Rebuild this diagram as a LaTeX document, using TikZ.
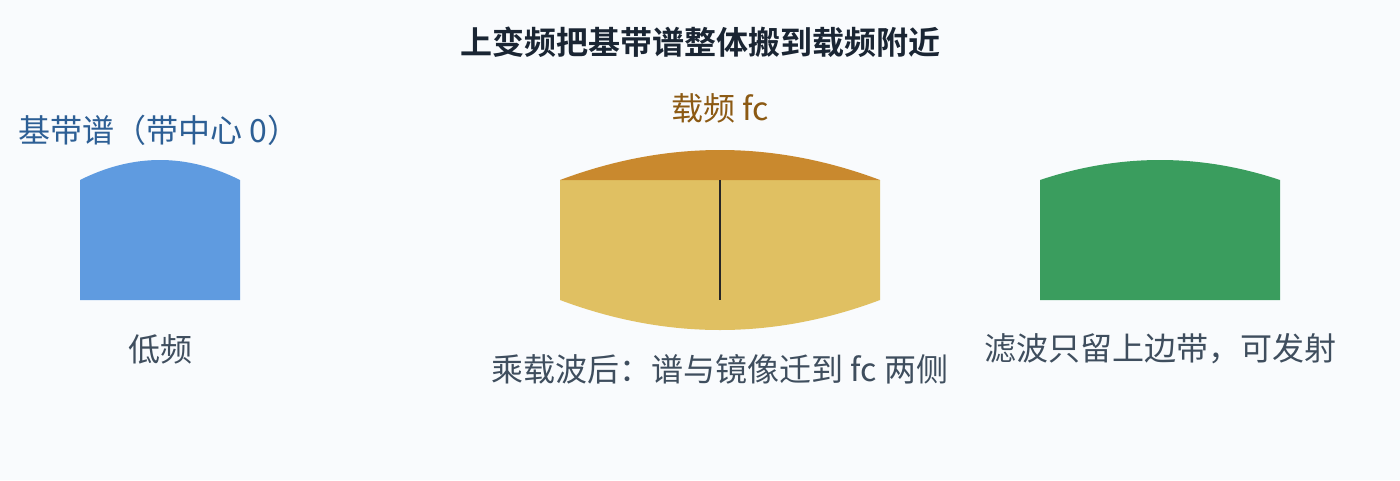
\documentclass[tikz,border=0pt]{standalone}
\usepackage{fontspec}
\setmainfont{Noto Sans CJK SC}
\newfontfamily\cjkb{Noto Sans CJK SC Bold}
\definecolor{bgc}{HTML}{F9FBFD}
\definecolor{titlec}{HTML}{1A2533}
\definecolor{labelc}{HTML}{3F4E5E}
\definecolor{bluet}{HTML}{2D5F95}
\definecolor{brownt}{HTML}{8C5A14}
\definecolor{bluef}{HTML}{5F9BE0}
\definecolor{yellowf}{HTML}{E0C062}
\definecolor{capf}{HTML}{C9892E}
\definecolor{greenf}{HTML}{3A9D5E}
\begin{document}
\begin{tikzpicture}[x=1pt,y=-1pt,
  lbl/.style={inner sep=0pt, anchor=center, text=labelc, font=\fontsize{32}{36}\selectfont},
  toplbl/.style={inner sep=0pt, anchor=center, font=\fontsize{32}{36}\selectfont}]
\fill[bgc] (0,0) rectangle (1400,480);
\useasboundingbox (0,0) rectangle (1400,480);
\node[inner sep=0pt, text=titlec, font=\cjkb\fontsize{32}{36}\selectfont] (title) at (700,42) {上变频把基带谱整体搬到载频附近};
% left baseband
\fill[bluef] (80,300) -- (80,180) .. controls (133.33,153.33) and (186.67,153.33) .. (240,180) -- (240,300) -- cycle;
\node[toplbl, text=bluet] (base) at (159,130) {基带谱（带中心 0）};
\node[lbl] (low) at (160,349) {低频};
% middle
\fill[yellowf] (560,180) -- (880,180) -- (880,300) .. controls (773.33,340) and (666.67,340) .. (560,300) -- cycle;
\fill[capf] (560,180) .. controls (666.67,140) and (773.33,140) .. (880,180) -- cycle;
\draw[line width=2pt, color=black!85] (720,180) -- (720,300);
\node[toplbl, text=brownt] (carrier) at (720,108) {载频 fc};
\node[lbl] (mix) at (720,369) {乘载波后：谱与镜像迁到 fc 两侧};
% right
\fill[greenf] (1040,300) -- (1040,180) .. controls (1120,153.33) and (1200,153.33) .. (1280,180) -- (1280,300) -- cycle;
\node[lbl] (filt) at (1160,349) {滤波只留上边带，可发射};
\end{tikzpicture}
\end{document}
